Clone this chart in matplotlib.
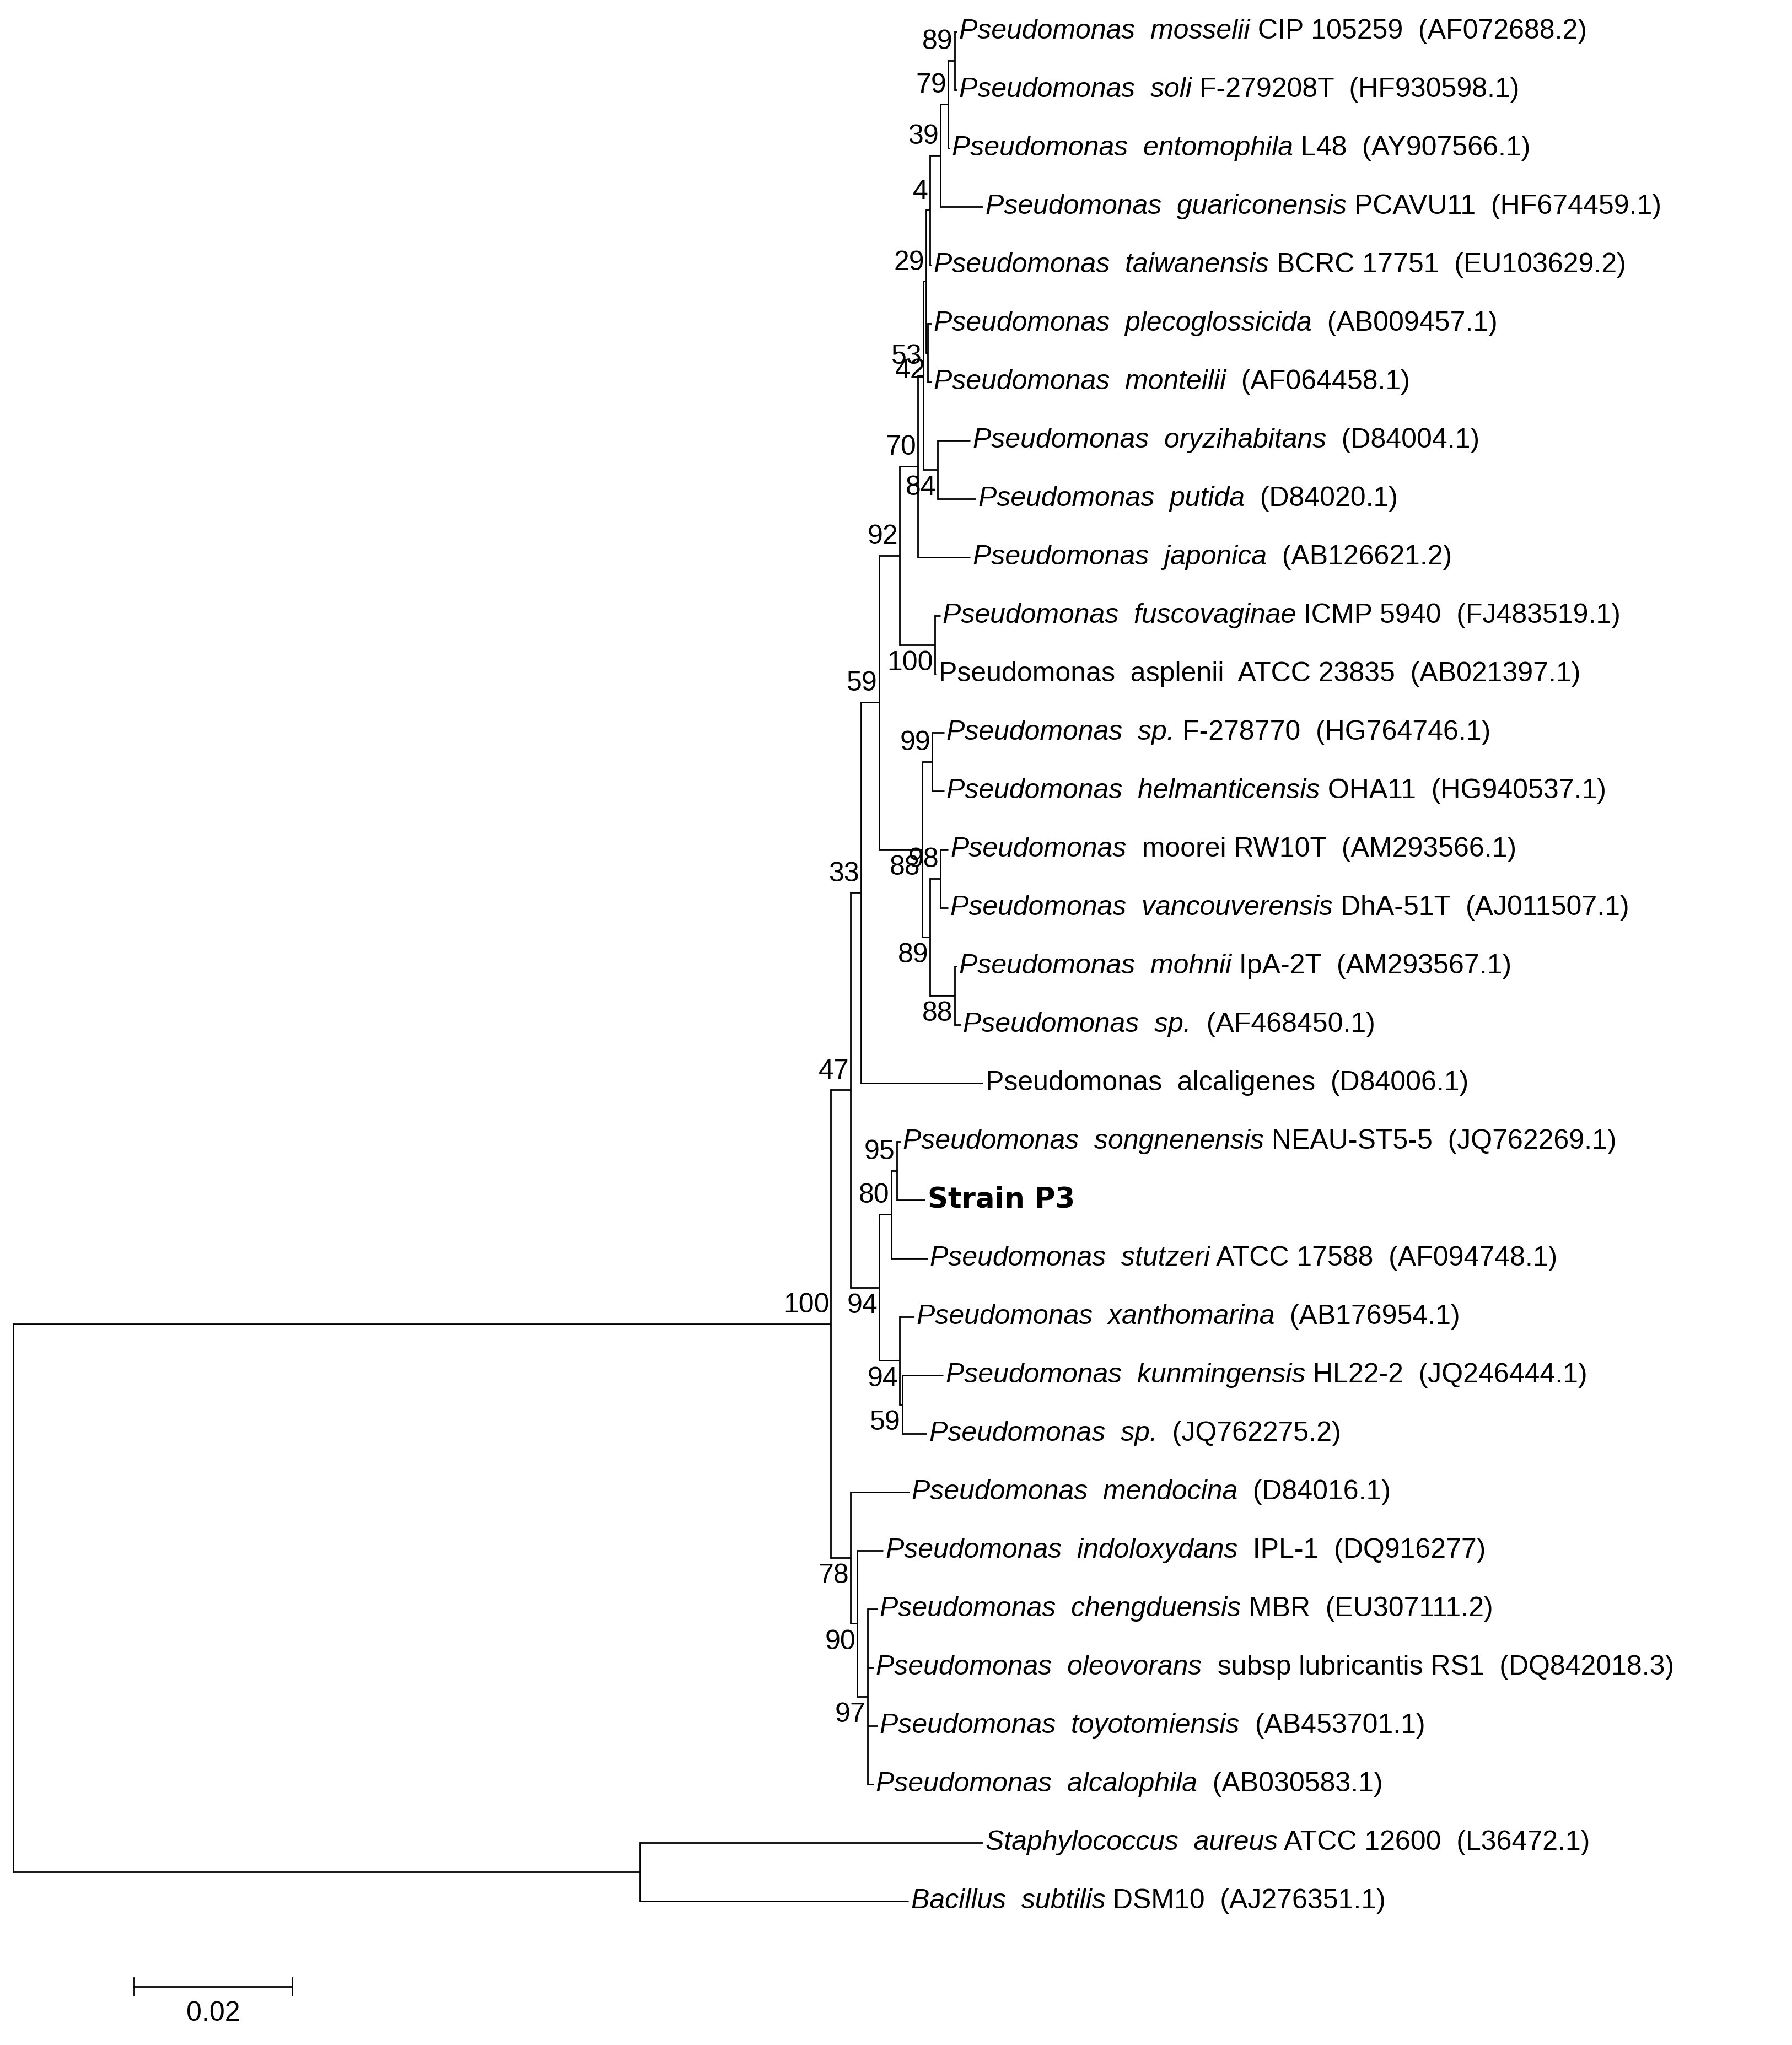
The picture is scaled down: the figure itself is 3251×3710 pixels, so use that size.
import matplotlib
matplotlib.use('Agg')
import matplotlib.pyplot as plt

# tree topology with branch lengths (substitutions/site) and bootstrap values
newick = ("(((((((((((((moss:0.0003,soli:0.0003)89:0.0008,ento:0.0002)79:0.0010,guar:0.0054)39:0.0013,"
          "taiw:0.0002)4:0.0005,(pleco:0.0005,mont:0.0005)42:0.0002)29:0.0003,"
          "(oryz:0.0041,puti:0.0048)84:0.0018)53:0.0007,japo:0.0066)70:0.0023,"
          "(fusc:0.0007,aspl:0.0002)100:0.0044)92:0.0026,"
          "((spF:0.0015,helm:0.0015)99:0.0013,((moor:0.0010,vanc:0.0010)98:0.0013,"
          "(mohn:0.0003,spAF:0.0008)88:0.0031)89:0.0010)88:0.0054)59:0.0023,"
          "alca:0.0154)33:0.0013,"
          "(((song:0.0005,P3:0.0036)95:0.0007,stut:0.0046)80:0.0015,"
          "(xant:0.0018,(kunm:0.0052,spJQ:0.0031)59:0.0003)94:0.0026)94:0.0036)47:0.0025,"
          "(mend:0.0074,(indo:0.0033,(chen:0.0013,oleo:0.0008,toyo:0.0013,alcp:0.0008)97:0.0013)90:0.0008)78:0.0025)100:0.1033,"
          "(staph:0.0433,bac:0.0339):0.0792);")

# leaf labels: *...* = italic segment
labels = {
    'moss': "*Pseudomonas  mosselii* CIP 105259  (AF072688.2)",
    'soli': "*Pseudomonas  soli* F-279208T  (HF930598.1)",
    'ento': "*Pseudomonas  entomophila* L48  (AY907566.1)",
    'guar': "*Pseudomonas  guariconensis* PCAVU11  (HF674459.1)",
    'taiw': "*Pseudomonas  taiwanensis* BCRC 17751  (EU103629.2)",
    'pleco': "*Pseudomonas  plecoglossicida*  (AB009457.1)",
    'mont': "*Pseudomonas  monteilii*  (AF064458.1)",
    'oryz': "*Pseudomonas  oryzihabitans*  (D84004.1)",
    'puti': "*Pseudomonas  putida*  (D84020.1)",
    'japo': "*Pseudomonas  japonica*  (AB126621.2)",
    'fusc': "*Pseudomonas  fuscovaginae* ICMP 5940  (FJ483519.1)",
    'aspl': "Pseudomonas  asplenii  ATCC 23835  (AB021397.1)",
    'spF': "*Pseudomonas  sp.* F-278770  (HG764746.1)",
    'helm': "*Pseudomonas  helmanticensis* OHA11  (HG940537.1)",
    'moor': "*Pseudomonas*  moorei RW10T  (AM293566.1)",
    'vanc': "*Pseudomonas  vancouverensis* DhA-51T  (AJ011507.1)",
    'mohn': "*Pseudomonas  mohnii* IpA-2T  (AM293567.1)",
    'spAF': "*Pseudomonas  sp.*  (AF468450.1)",
    'alca': "Pseudomonas  alcaligenes  (D84006.1)",
    'song': "*Pseudomonas  songnenensis* NEAU-ST5-5  (JQ762269.1)",
    'P3': "Strain P3",
    'stut': "*Pseudomonas  stutzeri* ATCC 17588  (AF094748.1)",
    'xant': "*Pseudomonas  xanthomarina*  (AB176954.1)",
    'kunm': "*Pseudomonas  kunmingensis* HL22-2  (JQ246444.1)",
    'spJQ': "*Pseudomonas  sp.*  (JQ762275.2)",
    'mend': "*Pseudomonas  mendocina*  (D84016.1)",
    'indo': "*Pseudomonas  indoloxydans*  IPL-1  (DQ916277)",
    'chen': "*Pseudomonas  chengduensis* MBR  (EU307111.2)",
    'oleo': "*Pseudomonas  oleovorans*  subsp lubricantis RS1  (DQ842018.3)",
    'toyo': "*Pseudomonas  toyotomiensis*  (AB453701.1)",
    'alcp': "*Pseudomonas  alcalophila*  (AB030583.1)",
    'staph': "*Staphylococcus  aureus* ATCC 12600  (L36472.1)",
    'bac': "*Bacillus  subtilis* DSM10  (AJ276351.1)",
}
scale_len = 0.02


def parse(s, i=0):
    node = {'children': [], 'name': '', 'support': '', 'len': 0.0}
    if s[i] == '(':
        i += 1
        while True:
            child, i = parse(s, i)
            node['children'].append(child)
            if s[i] == ',':
                i += 1
                continue
            i += 1  # ')'
            break
    j = i
    while s[i] not in ',():;':
        i += 1
    tok = s[j:i]
    if node['children']:
        node['support'] = tok
    else:
        node['name'] = tok
    if s[i] == ':':
        i += 1
        j = i
        while s[i] not in ',();':
            i += 1
        node['len'] = float(s[j:i])
    return node, i


root, _ = parse(newick)
leaf_counter = [0]


def layout(n, x0):
    n['x'] = x0 + n['len']
    if not n['children']:
        n['y'] = leaf_counter[0]
        leaf_counter[0] += 1
    else:
        for c in n['children']:
            layout(c, n['x'])
        n['y'] = (n['children'][0]['y'] + n['children'][-1]['y']) / 2.0


layout(root, 0.0)

W, H = 3251, 3710
fig = plt.figure(figsize=(W / 100, H / 100), dpi=100)
ax = fig.add_axes([0, 0, 1, 1])
ax.axis('off')
ux = 0.000164  # data units per reference pixel (display scale)
ax.set_xlim(-10 * ux, 1370 * ux)
ax.set_ylim((1575 - 24) / 45.0, -24 / 45.0)

lw = 2.0
fs = 36
font = 'Liberation Sans'


def put_label(x, y, text):
    if text == 'Strain P3':
        ax.text(x, y, text, fontsize=fs + 1, fontweight='bold', family='DejaVu Sans',
                va='center', ha='left')
        return
    parts = text.split('*')
    prev = None
    for k, p in enumerate(parts):
        if p == '':
            continue
        style = 'italic' if k % 2 == 1 else 'normal'
        if prev is None:
            prev = ax.text(x, y, p, fontsize=fs, style=style, family=font,
                           va='center', ha='left')
        else:
            prev = ax.annotate(p, xy=(1, 0), xycoords=prev, fontsize=fs, style=style,
                               family=font, va='bottom', ha='left')


def draw(n, last=False):
    nc = len(n['children'])
    for i, c in enumerate(n['children']):
        ax.plot([n['x'], c['x']], [c['y'], c['y']], color='black', lw=lw, solid_capstyle='butt')
        draw(c, last=(i == nc - 1))
    if n['children']:
        ys = [c['y'] for c in n['children']]
        ax.plot([n['x'], n['x']], [min(ys), max(ys)], color='black', lw=lw)
        if n['support']:
            if last:
                ax.text(n['x'] - 0.0002, n['y'] + 0.1, n['support'], fontsize=fs, family=font,
                        ha='right', va='top')
            else:
                ax.text(n['x'] - 0.0002, n['y'] - 0.1, n['support'], fontsize=fs, family=font,
                        ha='right', va='bottom')
    else:
        put_label(n['x'] + 0.0003, n['y'], labels[n['name']])


draw(root)

# scale bar
sy = (1530 - 24) / 45.0
sx0 = 93 * ux
ax.plot([sx0, sx0 + scale_len], [sy, sy], color='black', lw=lw)
ax.plot([sx0, sx0], [sy - 0.15, sy + 0.15], color='black', lw=lw)
ax.plot([sx0 + scale_len, sx0 + scale_len], [sy - 0.15, sy + 0.15], color='black', lw=lw)
ax.text(sx0 + scale_len / 2, sy + 0.25, '0.02', fontsize=fs, family=font, ha='center', va='top')

fig.savefig('out.png', dpi=100, facecolor='white')
